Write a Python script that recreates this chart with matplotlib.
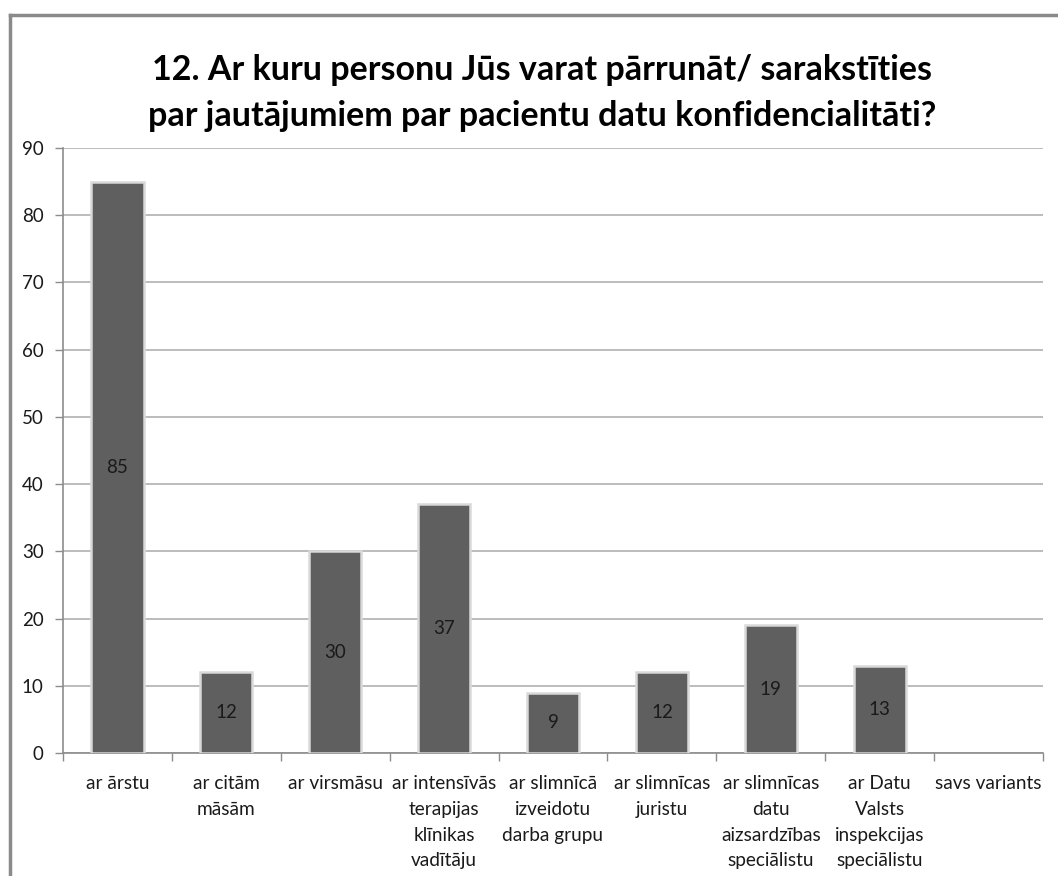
import matplotlib
matplotlib.use("Agg")
import matplotlib.pyplot as plt
from matplotlib.lines import Line2D

categories = [
    "ar ārstu",
    "ar citām\nmāsām",
    "ar virsmāsu",
    "ar intensīvās\nterapijas\nklīnikas\nvadītāju",
    "ar slimnīcā\nizveidotu\ndarba grupu",
    "ar slimnīcas\njuristu",
    "ar slimnīcas\ndatu\naizsardzības\nspeciālistu",
    "ar Datu\nValsts\ninspekcijas\nspeciālistu",
    "savs variants",
]
values = [85, 12, 30, 37, 9, 12, 19, 13, 0]
yticks = [0, 10, 20, 30, 40, 50, 60, 70, 80, 90]
title = "12. Ar kuru personu Jūs varat pārrunāt/ sarakstīties\npar jautājumiem par pacientu datu konfidencialitāti?"

plt.rcParams['font.family'] = ['Lato', 'DejaVu Sans']

W, H = 1058, 876
fig = plt.figure(figsize=(W / 100, H / 100), dpi=100)
fig.patch.set_facecolor('white')

ax = fig.add_axes([63 / W, 1 - 753 / H, (1043 - 63) / W, (753 - 148) / H])

x = list(range(len(categories)))
bars = ax.bar(x, values, width=0.48, color='#5f5f5f', edgecolor='#d9d9d9',
              linewidth=1.8, zorder=3)
for b, v in zip(bars, values):
    if v == 0:
        b.set_linewidth(0)

for xi, v in zip(x, values):
    if v > 0:
        ax.text(xi, v / 2, str(v), ha='center', va='center', fontsize=13.5,
                color='#1a1a1a', zorder=4)

ax.set_xlim(-0.5, len(categories) - 0.5)
ax.set_ylim(0, 90)
ax.set_yticks(yticks)
ax.set_yticklabels([str(t) for t in yticks], fontsize=13.5, color='#1a1a1a')
ax.yaxis.grid(True, color='#b0b0b0', linewidth=1.2, zorder=0)
ax.set_axisbelow(True)

ax.set_xticks(x)
ax.set_xticklabels(categories, fontsize=13.7, color='#1a1a1a', linespacing=1.62,
                   va='top')
ax.tick_params(axis='x', which='major', length=0, pad=16)
ax.set_xticks([i + 0.5 for i in range(-1, len(categories))], minor=True)
ax.tick_params(axis='x', which='minor', length=6, color='#8c8c8c', width=1)
ax.tick_params(axis='y', length=6, color='#8c8c8c', width=1, pad=8)

for s in ['top', 'right']:
    ax.spines[s].set_visible(False)
for s in ['left', 'bottom']:
    ax.spines[s].set_color('#8c8c8c')
    ax.spines[s].set_linewidth(1.2)

fig.text(542 / W, 1 - 93 / H, title, ha='center', va='center', fontsize=24.5,
         fontweight='bold', color='black', linespacing=1.5)

# outer frame
fig.add_artist(Line2D([10 / W, 10 / W], [0, 1 - 15 / H], transform=fig.transFigure,
                      color='#8a8a8a', linewidth=2.5))
fig.add_artist(Line2D([10 / W, 1], [1 - 15 / H, 1 - 15 / H], transform=fig.transFigure,
                      color='#8a8a8a', linewidth=2.5))

fig.savefig('out.png', dpi=100, facecolor='white')
